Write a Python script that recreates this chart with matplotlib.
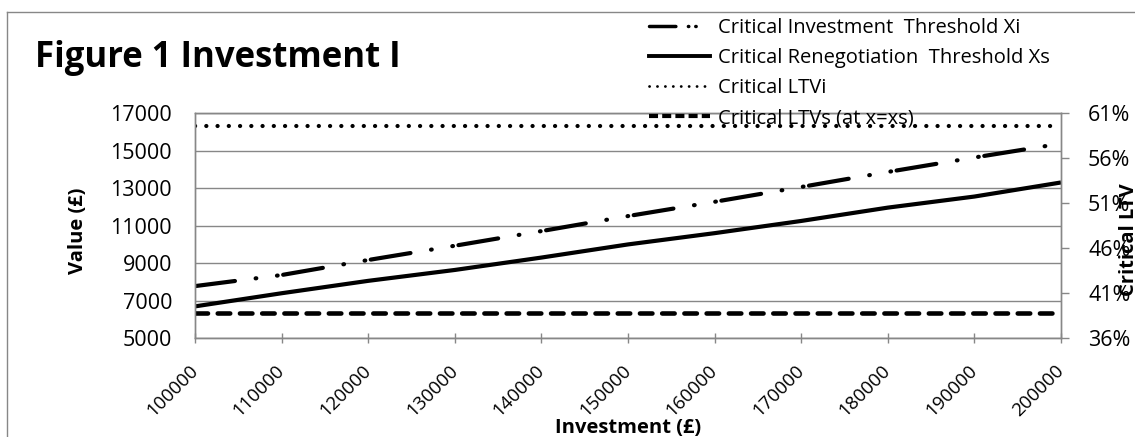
import matplotlib.pyplot as plt
import matplotlib.transforms as mtransforms
from matplotlib.lines import Line2D
from matplotlib.ticker import PercentFormatter

# chart data
investment = [100000, 110000, 120000, 130000, 140000, 150000,
              160000, 170000, 180000, 190000, 200000]
threshold_xi = [7780, 8370, 9170, 9930, 10710, 11510,
                12270, 13060, 13860, 14630, 15370]
threshold_xs = [6700, 7400, 8060, 8640, 9300, 10000,
                10600, 11250, 11960, 12550, 13300]
ltv_i = [0.596, 0.596, 0.596, 0.596, 0.596, 0.596,
         0.596, 0.596, 0.596, 0.596, 0.596]
ltv_s = [0.388, 0.388, 0.388, 0.388, 0.388, 0.388,
         0.388, 0.388, 0.388, 0.388, 0.388]
value_ticks = [5000, 7000, 9000, 11000, 13000, 15000, 17000]
ltv_ticks = [0.36, 0.41, 0.46, 0.51, 0.56, 0.61]
labels = ["Critical Investment  Threshold Xi",
          "Critical Renegotiation  Threshold Xs",
          "Critical LTVi",
          "Critical LTVs (at x=xs)"]

plt.rcParams['font.family'] = ['Open Sans', 'DejaVu Sans']
plt.rcParams['lines.scale_dashes'] = False

W, H = 1135, 437
grey = '#878787'

fig = plt.figure(figsize=(W / 100, H / 100), dpi=100)
ax = fig.add_axes([195 / W, 1 - 338.3 / H, 866 / W, 225.3 / H])
ax2 = ax.twinx()

pos = list(range(len(investment)))

xi_style = (0, (29, 15, 0.5, 15, 0.5, 4))
ax.plot(pos, threshold_xi, color='black', lw=3, ls=xi_style,
        dash_capstyle='round')
ax.plot(pos, threshold_xs, color='black', lw=3, solid_capstyle='butt')
ax2.plot(pos, ltv_i, color='black', lw=3, ls=(0, (0.1, 8)),
         dash_capstyle='round')
ax2.plot(pos, ltv_s, color='black', lw=3.3, ls=(0, (9, 7)),
         dash_capstyle='round')

ax.set_xlim(0, len(investment) - 1)
ax.set_ylim(value_ticks[0], value_ticks[-1])
ax.set_yticks(value_ticks)
ax2.set_ylim(ltv_ticks[0], ltv_ticks[-1])
ax2.set_yticks(ltv_ticks)
ax2.yaxis.set_major_formatter(PercentFormatter(1.0, decimals=0))

ax.set_xticks(pos)
ax.set_xticklabels([str(v) for v in investment], rotation=45,
                   ha='right', va='center', rotation_mode='anchor')
offset = mtransforms.ScaledTranslation(0.05, 0, fig.dpi_scale_trans)
for lbl in ax.get_xticklabels():
    lbl.set_transform(lbl.get_transform() + offset)

ax.tick_params(axis='x', direction='inout', length=7, width=1, color=grey,
               labelsize=13.5, pad=17.5)
ax.tick_params(axis='y', length=0, labelsize=15.5, pad=16.5)
ax2.tick_params(axis='y', direction='out', length=6, width=1, color=grey,
                labelsize=15.5, pad=13.5)
ax.grid(axis='y', color=grey, lw=1)
ax.set_axisbelow(True)
for a in (ax, ax2):
    for sp in a.spines.values():
        sp.set_color(grey)
        sp.set_linewidth(1)

ax.set_ylabel('Value (£)', fontsize=14.5, fontweight='bold',
              ha='center', va='center')
ax.yaxis.set_label_coords((78 - 195) / 866, (338.3 - 231) / 225.3)
ax.set_xlabel('Investment (£)', fontsize=14.5, fontweight='bold',
              va='center')
ax.xaxis.set_label_coords(0.5, (338.3 - 428) / 225.3)
ax2.set_ylabel('Critical LTV', fontsize=14.5, fontweight='bold',
               ha='center', va='center', rotation=90)
ax2.yaxis.set_label_coords((1129 - 195) / 866, (338.3 - 240) / 225.3)

fig.text(35 / W, 1 - 66.7 / H, 'Figure 1 Investment I', fontsize=25,
         fontweight='bold', va='baseline')

# legend, with handle patterns drawn like the short Excel samples
handles = [
    Line2D([], [], color='black', lw=2.5, ls=(0, (19, 9, 0.3, 5, 0.3, 20)),
           dash_capstyle='round'),
    Line2D([], [], color='black', lw=2.8),
    Line2D([], [], color='black', lw=2, ls=(0, (0.1, 5.6)),
           dash_capstyle='round'),
    Line2D([], [], color='black', lw=3, ls=(0, (6.5, 3)),
           dash_capstyle='butt'),
]
fig.legend(handles, labels, loc='upper left',
           bbox_to_anchor=(649 / W, 1 - 18 / H), frameon=False,
           fontsize=14.5, handlelength=3.03, handletextpad=0.4,
           labelspacing=0.5, borderpad=0, borderaxespad=0)

# outer chart border (top and left edges visible)
fig.add_artist(Line2D([7 / W, 7 / W], [0, 1 - 12 / H], color=grey, lw=1,
                      transform=fig.transFigure))
fig.add_artist(Line2D([7 / W, 1], [1 - 12 / H, 1 - 12 / H], color=grey,
                      lw=1, transform=fig.transFigure))

fig.savefig('out.png', dpi=100)
